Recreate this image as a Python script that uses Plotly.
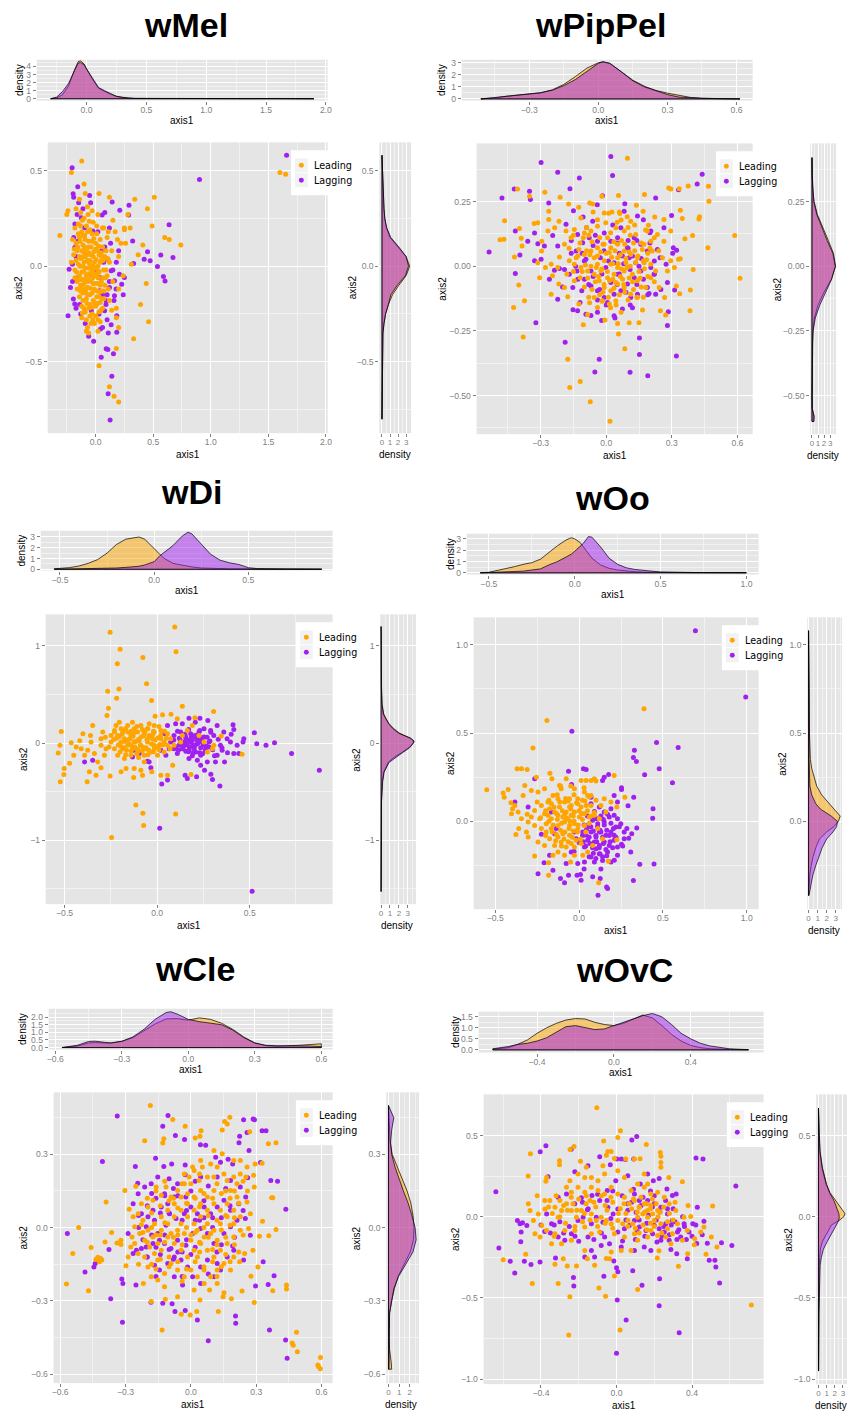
import plotly.graph_objects as go

W, H = 851, 1414
FONT = "Liberation Sans, Arial, Helvetica, sans-serif"
LEGEND_FONT = "DejaVu Sans, Verdana, sans-serif"
LEAD_COLOR = "#FFA500"
LAG_COLOR = "#A020F0"
LEAD_FILL = "rgba(255,165,0,0.5)"
LAG_FILL = "rgba(160,32,240,0.5)"
GREY = "#7F7F7F"

SERIES = ["Leading", "Lagging"]

# ---------------------------------------------------------------- wMel
WMEL_LEAD = [(-0.12,0.55),(-0.21,0.49),(-0.31,0.16),(-0.25,0.27),(-0.24,0.29),(-0.10,0.43),(0.03,0.38),(0.12,0.36),
    (0.34,0.35),(0.51,0.36),(0.45,0.30),(0.49,0.21),(0.60,0.15),(0.64,0.14),(0.74,0.11),(0.41,0.11),(0.37,0.06),
    (0.31,0.01),(0.44,-0.09),(0.39,-0.20),(0.46,-0.29),(0.33,-0.38),(0.18,-0.43),(0.20,-0.32),(0.03,-0.52),
    (0.12,-0.63),(0.16,-0.68),(0.20,-0.71),(1.60,0.49),(1.65,0.48),(0.28,0.27),(0.30,0.20),(0.26,0.12),(0.19,0.14),
    (0.25,0.19),(0.15,0.24),(0.11,0.18),(0.06,0.20),(-0.06,-0.35),(0.02,-0.34),(-0.01,-0.30),(-0.07,-0.32),
    (-0.12,-0.27),(0.14,-0.23),(0.18,-0.27),(-0.08,-0.34),
    (-0.18,0.20),(-0.15,0.22),(-0.12,0.18),(-0.10,0.25),(-0.08,0.21),(-0.05,0.19),(-0.02,0.23),(0.01,0.17),(0.04,0.14),
    (-0.17,0.12),(-0.14,0.15),(-0.11,0.11),(-0.09,0.14),(-0.06,0.10),(-0.03,0.13),(0.00,0.09),(0.03,0.06),(0.06,0.10),
    (-0.19,0.06),(-0.16,0.08),(-0.13,0.04),(-0.10,0.07),(-0.07,0.03),(-0.04,0.06),(-0.01,0.02),(0.02,0.00),(0.05,0.03),
    (0.08,0.05),(-0.18,-0.02),(-0.15,0.01),(-0.12,-0.03),(-0.09,-0.01),(-0.06,-0.04),(-0.03,-0.02),(0.00,-0.05),
    (0.03,-0.03),(0.06,-0.06),(0.09,-0.02),(-0.16,-0.08),(-0.13,-0.10),(-0.10,-0.07),(-0.07,-0.11),(-0.04,-0.08),
    (-0.01,-0.12),(0.02,-0.09),(0.05,-0.13),(0.08,-0.10),(-0.14,-0.16),(-0.11,-0.14),(-0.08,-0.17),(-0.05,-0.15),
    (-0.02,-0.18),(0.01,-0.16),(0.04,-0.19),(0.07,-0.17),(-0.12,-0.21),(-0.09,-0.24),(-0.06,-0.22),(-0.03,-0.25),
    (0.00,-0.21),(0.03,-0.24),(0.06,-0.22),(-0.08,-0.28),(-0.04,-0.30),(0.02,-0.28),(0.10,-0.05),(0.12,0.02),
    (0.11,-0.12),(0.14,0.08),(0.15,-0.08),(-0.20,0.14),(-0.21,0.02),(-0.17,0.30),(-0.13,0.28),(-0.07,0.31),
    (-0.03,0.29),(0.02,0.27),(0.07,0.20),(0.10,0.15),(0.12,-0.18),(0.18,-0.22),(0.20,0.05),(0.22,0.12),(0.17,0.18),
    (0.25,0.20),(0.24,-0.05),(0.20,-0.12),(-0.14,0.35),(-0.09,0.38),(-0.04,0.00),(-0.06,0.07),(-0.08,-0.05),
    (-0.02,-0.09),(-0.11,0.00),(-0.05,-0.01),
    (-0.14,0.05),(-0.12,0.08),(-0.10,0.02),(-0.08,0.09),(-0.06,0.13),(-0.04,0.10),(-0.02,0.05),(0.00,0.12),(0.02,0.08),
    (0.04,0.02),(-0.14,-0.05),(-0.12,-0.07),(-0.10,-0.03),(-0.08,-0.08),(-0.06,-0.01),(-0.04,-0.05),(-0.02,-0.03),
    (0.00,-0.01),(0.02,-0.06),(0.04,-0.10),(-0.13,-0.13),(-0.11,-0.18),(-0.09,-0.12),(-0.07,-0.15),(-0.05,-0.20),
    (-0.03,-0.14),(-0.01,-0.19),(0.01,-0.13),(0.03,-0.16),(0.05,-0.08),(-0.15,0.17),(-0.13,0.21),(-0.11,0.16),
    (-0.07,0.18),(-0.03,0.17),(0.01,0.21),(0.05,0.07),(0.07,-0.02),(0.09,0.08),(0.07,-0.13),(-0.17,0.03),(-0.18,-0.06),
    (-0.16,-0.12),(-0.10,-0.22),(-0.05,-0.26),(0.00,-0.26),(0.04,-0.29),(-0.02,0.00),(-0.09,0.05),(-0.05,0.03),
    (-0.135,0.00),(-0.115,0.045),(-0.095,0.10),(-0.075,0.06),(-0.055,0.015),(-0.035,-0.035),(-0.015,0.075),
    (0.005,0.035),(0.025,-0.025),(0.045,0.055),(-0.125,-0.115),(-0.105,-0.095),(-0.085,-0.135),(-0.065,-0.07),
    (-0.045,-0.115),(-0.025,-0.06),(-0.005,-0.09),(0.015,-0.04),(0.035,-0.135),(0.055,-0.17),(-0.115,-0.245),
    (-0.075,-0.195),(-0.035,-0.215),(0.015,-0.195),(-0.155,0.10),(-0.135,0.13),(-0.095,0.16),(-0.055,0.235),
    (-0.015,0.145),(0.025,0.105),(-0.165,-0.03),(-0.145,-0.07),(-0.185,0.09),(0.065,0.03),(0.085,-0.06),(0.105,0.04),
    (-0.065,0.27),(-0.115,0.24),(-0.025,-0.28),(0.045,-0.23)]
WMEL_LAG = [(-0.204,0.514),(-0.195,0.378),(-0.155,0.415),(-0.052,0.37),(-0.043,0.332),(-0.147,0.332),(0.057,0.267),
    (0.144,0.335),(0.21,0.292),(0.29,0.318),(0.287,0.267),(1.658,0.58),(0.902,0.453),(0.638,0.217),(0.672,0.045),
    (0.566,0.059),(0.451,0.075),(0.474,0.028),(0.537,-0.002),(0.589,-0.054),(0.603,-0.078),(0.422,0.036),
    (0.322,0.132),(0.33,0.014),(0.25,-0.059),(0.227,-0.094),(-0.239,-0.259),(-0.218,-0.111),(-0.23,-0.016),
    (-0.201,0.01),(-0.193,-0.172),(-0.181,-0.198),(-0.129,-0.25),(-0.06,-0.366),(-0.017,-0.392),(0.043,-0.328),
    (0.049,-0.476),(0.092,-0.432),(0.106,-0.436),(0.155,-0.458),(0.184,-0.345),(0.184,-0.259),(0.135,-0.306),
    (0.109,-0.667),(0.141,-0.576),(0.126,-0.804),(0.078,-0.233),(0.092,-0.181),(0.164,-0.155),(0.121,-0.111),
    (0.178,-0.12),(0.207,-0.042),(0.164,-0.076),(0.135,-0.024),(0.106,0.036),(0.049,0.08),(-0.023,0.184),
    (-0.095,0.201),(-0.152,0.132),(-0.124,0.253),(-0.181,0.097),(0.006,-0.024),(0.034,-0.128),(0.006,-0.198),
    (-0.037,-0.233),(-0.109,-0.128),(-0.066,-0.076),(-0.152,-0.059),
    (0.06,-0.15),(0.09,-0.20),(0.12,-0.08),(0.10,-0.28),(0.08,0.10),(0.13,0.12),(0.18,0.02),(0.16,-0.18),(-0.18,0.22),
    (-0.16,0.27),(-0.20,-0.08),(-0.17,-0.22),(-0.09,-0.30),(0.03,-0.25),(0.20,0.08),(0.24,-0.15),(-0.11,0.30),
    (-0.19,0.36),(0.08,0.28),(0.11,-0.35),
    (0.04,-0.06),(0.07,0.02),(0.10,-0.15),(0.15,-0.02),(-0.19,0.15),(-0.17,0.05),(0.02,0.18),(0.12,0.20),(-0.14,-0.20),
    (0.06,-0.32)]
WMEL_TOP_X = [-0.3,-0.25,-0.2,-0.15,-0.1,-0.07,-0.05,-0.02,0.0,0.05,0.1,0.15,0.2,0.25,0.3,0.35,0.4,0.5,0.7,1.0,1.3,1.6,1.7,1.9]
WMEL_TOP_LEAD = [0,0.1,0.5,1.6,3.6,4.6,4.7,4.3,3.7,2.4,1.3,0.9,0.55,0.3,0.16,0.08,0.04,0.03,0.02,0.02,0.02,0.03,0.03,0]
WMEL_TOP_LAG = [0,0.2,0.9,1.9,3.5,4.4,4.5,4.2,3.7,2.5,1.4,1.0,0.6,0.3,0.15,0.07,0.04,0.03,0.02,0.02,0.02,0.03,0.03,0]
WMEL_SIDE_Y = [-0.8,-0.6,-0.45,-0.35,-0.3,-0.25,-0.2,-0.15,-0.1,-0.05,0,0.05,0.1,0.15,0.2,0.25,0.3,0.4,0.5,0.58]
WMEL_SIDE_LEAD = [0,0.03,0.06,0.12,0.25,0.45,0.8,1.3,2.1,3.0,3.45,3.0,2.0,1.0,0.55,0.35,0.25,0.15,0.12,0]
WMEL_SIDE_LAG = [0,0.03,0.06,0.12,0.25,0.45,0.8,1.1,1.9,2.9,3.3,3.0,2.1,1.1,0.6,0.35,0.25,0.15,0.12,0]
WMEL_AX1_TICKS = [0, 0.5, 1.0, 1.5, 2.0]
WMEL_AX1_LABELS = ["0.0", "0.5", "1.0", "1.5", "2.0"]
WMEL_AX2_TICKS = [-0.5, 0, 0.5]
WMEL_AX2_LABELS = ["−0.5", "0.0", "0.5"]
WMEL_DENS_TICKS = [0, 1, 2, 3, 4]
WMEL_DENS_LABELS = ["0", "1", "2", "3", "4"]
WMEL_SIDE_TICKS = [0, 1, 2, 3]
WMEL_SIDE_LABELS = ["0", "1", "2", "3"]

# ---------------------------------------------------------------- wPipPel
WPIPPEL_LEAD = [(0.097,0.418),(-0.406,0.299),(-0.465,0.176),(-0.486,0.103),(-0.468,0.104),(-0.397,0.146),(-0.389,0.108),
    (-0.385,0.078),(-0.42,0.036),(-0.4,-0.072),(-0.374,-0.133),(-0.424,-0.159),(-0.38,-0.273),(-0.351,0.271),
    (-0.281,0.286),(-0.33,0.165),(-0.313,0.168),(-0.263,0.213),(-0.263,0.181),(-0.211,0.267),(-0.216,0.174),
    (-0.236,0.149),(-0.172,0.241),(-0.126,0.228),(-0.076,0.245),(-0.062,0.241),(-0.02,0.271),(-0.009,0.206),
    (0.011,0.205),(0.026,0.21),(0.056,0.274),(0.062,0.204),(0.068,0.179),(0.096,0.191),(0.112,0.174),(0.138,0.236),
    (0.175,0.277),(0.169,0.213),(0.193,0.159),(0.222,0.19),(0.264,0.181),(0.286,0.303),(0.296,0.299),(0.334,0.3),
    (0.375,0.31),(0.468,0.309),(0.47,0.251),(0.424,0.183),(0.427,0.191),(0.339,0.217),(0.348,0.185),(0.36,0.106),
    (0.395,0.119),(0.465,0.072),(0.588,0.119),(0.612,-0.046),(0.398,-0.012),(0.385,-0.092),(0.383,-0.172),
    (0.336,-0.106),(0.321,-0.076),(0.312,-0.005),(0.331,0.027),(0.339,0.029),(0.267,-0.121),(0.272,-0.188),
    (0.248,-0.172),(0.166,-0.169),(0.15,-0.218),(0.105,-0.218),(0.068,-0.178),(0.056,-0.262),(0.085,-0.319),
    (0.052,-0.221),(-0.006,-0.208),(0.017,-0.599),(-0.073,-0.524),(-0.119,-0.445),(-0.167,-0.469),(-0.176,-0.359),
    (-0.105,-0.226),(-0.085,-0.186),(-0.076,-0.141),(-0.125,-0.146),(-0.176,-0.118),(-0.191,-0.082),(-0.217,-0.069),
    (-0.252,-0.108),(-0.246,-0.037),(-0.278,-0.005),(-0.305,-0.044),(-0.313,0.014),(-0.296,0.059),(-0.295,0.097),
    (-0.267,0.136),(-0.191,0.085),(-0.161,0.11),(-0.184,0.136),(-0.146,0.142),(-0.116,0.187),(-0.1,0.129),
    (-0.07,0.136),(-0.04,0.155),(-0.002,0.168),(0.044,0.149),(0.082,0.136),(0.135,0.123),(0.188,0.136),(0.234,0.123),
    (0.204,0.097),(0.264,0.097),(0.295,0.136),(0.257,0.033),(0.226,-0.018),(0.204,-0.044),(0.181,-0.082),
    (0.143,-0.121),(0.112,-0.108),(0.082,-0.082),(0.052,-0.069),(0.021,-0.095),(-0.009,-0.082),(-0.032,-0.056),
    (-0.055,-0.031),(-0.085,-0.018),(-0.116,-0.005),(-0.146,0.008),(-0.169,0.021),(-0.138,0.033),(-0.1,0.046),
    (-0.07,0.059),(-0.04,0.072),(-0.009,0.085),(0.021,0.072),(0.052,0.085),(0.082,0.059),(0.112,0.046),(0.143,0.033),
    (0.173,0.014),(0.204,0.008),(-0.009,0.021),(0.021,0.008),(0.052,-0.005),(0.082,-0.018),(0.036,-0.031),
    (0.006,-0.044),(-0.024,-0.018),(-0.04,0.008),(-0.055,0.033),(0.014,0.053),(0.052,0.033),(0.09,0.014),
    (0.12,-0.031),(0.143,-0.056),(0.075,-0.05),(0.044,-0.063),(-0.146,-0.056),(-0.119,-0.044),(-0.222,-0.005),
    (-0.252,0.008),(-0.214,0.036),(0.006,0.11),(0.173,0.085),(0.211,0.059),(0.295,0.021),(0.28,-0.018),
    (0.242,-0.082),(-0.055,-0.121),(-0.017,-0.133),(0.014,-0.146),(0.044,-0.133),(-0.04,-0.159),
    (-0.12,0.09),(-0.08,0.12),(-0.03,0.11),(0.02,0.13),(0.07,0.10),(0.11,0.12),(0.16,0.09),(0.19,0.05),(-0.13,0.04),
    (-0.09,0.06),(-0.04,0.04),(0.00,0.05),(0.04,0.06),(0.09,0.03),(0.13,0.06),(0.17,0.02),(-0.11,-0.02),(-0.07,0.00),
    (-0.02,-0.01),(0.03,0.01),(0.07,-0.01),(0.11,0.00),(0.15,-0.02),(0.19,-0.04),(-0.10,-0.08),(-0.05,-0.06),
    (-0.01,-0.07),(0.03,-0.05),(0.08,-0.07),(0.12,-0.06),(0.16,-0.08),(-0.08,-0.12),(-0.03,-0.11),(0.01,-0.12),
    (0.06,-0.11),(0.10,-0.13),(0.14,-0.12),(0.02,-0.16),(-0.04,0.18),(0.05,0.17),(0.13,0.16),(0.22,0.11),(0.24,0.06),
    (0.22,-0.06),(-0.17,0.07),(-0.18,-0.03),(-0.15,0.12),(0.06,0.21),(-0.06,0.21),(0.18,0.14),
    (-0.105,0.11),(-0.065,0.095),(-0.015,0.085),(0.035,0.095),(0.085,0.085),(0.125,0.09),(0.165,0.065),(-0.125,0.065),
    (-0.075,0.045),(-0.025,0.055),(0.025,0.035),(0.065,0.045),(0.105,0.055),(0.145,0.04),(0.185,0.025),(-0.095,0.005),
    (-0.045,-0.005),(0.005,-0.02),(0.055,0.01),(0.095,-0.005),(0.135,0.015),(0.175,-0.01),(-0.085,-0.045),
    (-0.035,-0.04),(0.015,-0.055),(0.065,-0.04),(0.105,-0.045),(0.155,-0.045),(-0.065,-0.09),(-0.015,-0.1),
    (0.035,-0.085),(0.085,-0.1),(0.125,-0.09),(-0.02,-0.135),(0.045,-0.15),(0.17,-0.12),(0.2,0.07),(-0.15,-0.02),
    (-0.09,0.15),(0.1,0.15)]
WPIPPEL_LAG = [(0.021,0.424),(-0.298,0.401),(-0.222,0.363),(-0.123,0.341),(0.029,0.351),(-0.166,0.3),(-0.421,0.299),
    (-0.477,0.264),(-0.351,0.29),(-0.347,0.258),(-0.263,0.245),(-0.15,0.215),(-0.106,0.19),(-0.041,0.238),
    (-0.017,0.273),(0.085,0.242),(0.226,0.264),(0.331,0.296),(0.416,0.318),(0.439,0.356),(0.299,0.196),(0.264,0.149),
    (0.307,0.072),(0.322,0.062),(0.304,0.05),(0.274,0.008),(0.246,0.033),(0.313,-0.092),(0.28,-0.063),(0.226,-0.108),
    (0.284,-0.176),(0.28,-0.229),(0.321,-0.347),(0.152,-0.277),(0.152,-0.341),(0.19,-0.423),(0.109,-0.41),
    (-0.032,-0.359),(-0.052,-0.409),(-0.188,-0.294),(-0.322,-0.218),(-0.416,-0.028),(-0.536,0.055),(-0.395,0.044),
    (-0.416,0.136),(-0.328,0.129),(-0.313,0.087),(-0.245,0.119),(-0.222,0.078),(-0.191,-0.012),(-0.214,-0.009),
    (-0.237,-0.015),(-0.26,-0.05),(-0.222,-0.127),(-0.152,-0.168),(-0.131,-0.172),(-0.093,-0.185),(-0.04,-0.178),
    (-0.021,-0.21),(0.006,-0.14),(0.036,-0.191),(0.074,-0.165),(0.112,-0.121),(0.143,-0.108),(0.196,-0.105),
    (0.188,-0.082),(0.219,-0.031),(0.204,-0.005),(0.234,0.065),(0.204,0.136),(0.188,0.059),(0.158,0.085),
    (0.128,0.11),(0.097,0.072),(0.052,0.11),(0.021,0.097),(-0.009,0.129),(-0.04,0.097),(-0.078,0.11),(-0.108,0.091),
    (-0.138,0.059),(-0.093,0.027),(-0.07,-0.018),(-0.1,-0.05),(-0.07,-0.076),(-0.04,-0.095),(-0.009,-0.121),
    (0.036,-0.108),(0.067,-0.095),(0.097,-0.069),(0.128,-0.044),(0.158,-0.018),(0.135,0.014),(0.105,0.033),
    (0.074,0.04),(0.036,0.014),(-0.002,-0.005),(-0.027,0.033),(-0.134,-0.018),(-0.169,-0.031),(-0.153,-0.082),
    (-0.112,-0.095),(-0.184,0.162),(-0.131,0.123),(-0.062,0.174),(0.067,0.149),(0.143,0.194),(0.082,0.213),
    (-0.283,0.078),(-0.298,0.027),(-0.359,0.097),(-0.328,0.021),(0.052,-0.031),(0.021,-0.063),(0.109,-0.012),
    (-0.06,0.08),(0.05,0.09),(0.14,0.10),(-0.10,0.02),(0.01,0.02),(0.12,0.04),(-0.06,-0.04),(0.06,-0.03),(0.17,-0.05),
    (-0.03,-0.09),(0.09,-0.10),(0.19,-0.11),(-0.12,-0.14),(0.00,-0.15),(0.12,-0.16),(-0.16,0.05),(0.22,0.02),
    (-0.09,0.15),(0.03,0.16),(0.17,0.18),(-0.20,-0.08),(0.25,-0.09),(0.08,0.01),(-0.01,0.06),(0.10,0.07),(-0.13,-0.05),
    (0.15,0.00),(0.04,-0.20),(-0.07,-0.19),(0.20,0.09),
    (-0.11,0.05),(-0.05,0.12),(0.10,0.10),(0.16,0.03),(-0.02,-0.03),(0.05,-0.07),(-0.08,-0.07),(0.14,-0.07),
    (0.22,-0.03),(-0.16,0.10),(0.20,0.13),(0.06,0.05),(-0.04,-0.13),(0.11,-0.15),(-0.14,0.00)]
WPIPPEL_TOP_X = [-0.51,-0.45,-0.4,-0.35,-0.3,-0.25,-0.2,-0.15,-0.1,-0.05,0,0.02,0.05,0.1,0.15,0.2,0.25,0.3,0.35,0.4,0.45,0.5,0.6,0.615]
WPIPPEL_TOP_LEAD = [0,0.08,0.22,0.32,0.4,0.52,0.75,1.2,1.85,2.55,3.0,3.08,2.95,2.25,1.55,1.05,0.7,0.48,0.3,0.12,0.05,0.03,0.01,0]
WPIPPEL_TOP_LAG = [0,0.12,0.25,0.32,0.4,0.5,0.72,1.1,1.6,2.3,2.95,3.08,2.95,2.25,1.5,1.0,0.65,0.36,0.15,0.08,0.05,0.03,0.01,0]
WPIPPEL_SIDE_Y = [-0.6,-0.58,-0.55,-0.5,-0.4,-0.3,-0.25,-0.2,-0.15,-0.1,-0.05,0,0.05,0.1,0.15,0.2,0.25,0.3,0.35,0.42]
WPIPPEL_SIDE_LEAD = [0.3,0.35,0.05,0.02,0.03,0.06,0.15,0.4,1.0,2.0,3.2,3.9,3.55,2.7,1.8,0.9,0.35,0.12,0.05,0]
WPIPPEL_SIDE_LAG = [0.3,0.35,0.05,0.02,0.03,0.08,0.2,0.55,1.3,2.3,3.25,3.85,3.45,2.5,1.7,0.8,0.3,0.12,0.05,0]
WPIPPEL_AX1_TICKS = [-0.3, 0, 0.3, 0.6]
WPIPPEL_AX1_LABELS = ["−0.3", "0.0", "0.3", "0.6"]
WPIPPEL_AX2_TICKS = [-0.5, -0.25, 0, 0.25]
WPIPPEL_AX2_LABELS = ["−0.50", "−0.25", "0.00", "0.25"]
WPIPPEL_DENS_TICKS = [0, 1, 2, 3]
WPIPPEL_DENS_LABELS = ["0", "1", "2", "3"]
WPIPPEL_SIDE_TICKS = [0, 1, 2, 3]
WPIPPEL_SIDE_LABELS = ["0", "1", "2", "3"]

# ---------------------------------------------------------------- wDi
WDI_LEAD = [(-0.254,1.14),(0.095,1.195),(-0.2,0.966),(0.102,0.939),(-0.215,0.816),(-0.077,0.881),(-0.267,0.532),
    (-0.206,0.556),(-0.057,0.611),(-0.219,0.461),(-0.03,0.437),(0.136,0.379),(-0.263,0.358),(-0.271,0.283),
    (0.075,0.297),(0.305,0.324),(-0.518,0.119),(-0.525,-0.024),(-0.534,-0.102),(-0.464,0.003),(-0.45,-0.126),
    (-0.473,-0.208),(-0.502,-0.263),(-0.504,-0.324),(-0.523,-0.399),(-0.378,-0.399),(-0.401,0.096),(-0.348,0.181),
    (-0.36,0.078),(-0.418,0.024),(-0.41,-0.058),(-0.375,-0.075),(-0.339,-0.109),(-0.366,-0.297),(-0.33,-0.331),
    (-0.303,-0.256),(-0.321,-0.195),(-0.285,-0.126),(-0.303,0.044),(-0.294,0.113),(-0.249,0.078),(-0.254,-0.341),
    (-0.246,-0.973),(-0.195,-0.297),(-0.168,-0.263),(-0.127,-0.355),(-0.124,-0.263),(-0.088,-0.28),(-0.079,-0.331),
    (-0.07,-0.195),(-0.115,-0.638),(-0.077,-0.724),(-0.073,-0.85),(0.1,-0.73),(-0.029,-0.297),(0.02,-0.331),
    (0.056,-0.331),(0.084,-0.229),(0.183,-0.324),(0.204,0.259),(0.109,0.249),(0.029,0.29),(0.306,-0.024),
    (0.346,0.072),(0.299,-0.058),(0.459,-0.116),(-0.011,0.276),(-0.088,0.181),(-0.124,0.147),(-0.159,0.181),
    (-0.195,0.147),(-0.231,0.113),(-0.249,0.01),(-0.231,-0.058),(-0.213,-0.126),(-0.177,-0.16),(-0.142,-0.126),
    (-0.106,-0.092),(-0.07,-0.126),(-0.034,-0.092),(0.002,-0.126),(0.038,-0.092),(0.056,-0.024),(0.02,0.044),
    (-0.016,0.113),(-0.052,0.147),(-0.016,0.181),(0.02,0.13),(0.056,0.096),(0.073,0.044),(0.091,-0.024),
    (0.127,0.01),(0.136,0.078),(0.163,0.13),(0.19,0.181),(0.226,0.078),(0.253,0.01),(0.271,-0.092),(-0.177,0.044),
    (-0.159,-0.024),(-0.124,0.01),(-0.088,-0.024),(-0.052,0.01),(-0.025,0.044),(-0.142,0.078),(-0.106,0.113),
    (-0.07,0.078),(-0.195,0.01),(-0.213,0.078),(-0.186,-0.058),(-0.131,-0.058),(-0.097,0.027),(-0.061,-0.058),
    (-0.016,-0.024),(-0.043,0.078),(0.011,-0.024),(0.038,0.01),(-0.159,0.113),(-0.204,0.215),(-0.133,0.215),
    (-0.043,0.198),(-0.222,0.181),(-0.303,-0.024),(-0.276,-0.058),(-0.357,0.01),(-0.392,-0.126),(-0.437,-0.041),
    (-0.22,0.05),(-0.19,0.09),(-0.16,0.03),(-0.13,0.07),(-0.10,0.04),(-0.07,0.10),(-0.04,0.06),(-0.01,0.03),(0.02,0.08),
    (-0.21,-0.02),(-0.18,-0.05),(-0.15,-0.01),(-0.12,-0.04),(-0.09,-0.02),(-0.06,-0.05),(-0.03,-0.01),(0.00,-0.04),
    (0.03,-0.02),(-0.20,-0.09),(-0.17,-0.12),(-0.14,-0.08),(-0.11,-0.11),(-0.08,-0.08),(-0.05,-0.12),(-0.02,-0.09),
    (0.01,-0.07),(-0.23,0.13),(-0.17,0.15),(-0.11,0.17),(-0.05,0.15),(0.01,0.17),(0.05,0.05),(0.07,-0.06),
    (-0.26,-0.04),(-0.28,0.06),(-0.14,0.12),(-0.08,0.14),(-0.02,0.12),(0.04,0.12),(-0.10,-0.15),
    (-0.235,0.035),(-0.205,0.065),(-0.175,0.015),(-0.145,0.045),(-0.115,0.015),(-0.085,0.065),(-0.055,0.035),
    (-0.025,0.085),(0.005,0.055),(-0.195,-0.035),(-0.165,-0.075),(-0.135,-0.035),(-0.105,-0.065),(-0.075,-0.045),
    (-0.045,-0.075),(-0.015,-0.055),(0.015,-0.015),(-0.125,0.105),(-0.065,0.125),(-0.185,0.115)]
WDI_LAG = [(0.513,-1.526),(0.876,-0.28),(0.726,-0.109),(0.634,0.003),(0.588,-0.024),(0.538,-0.007),(0.525,0.106),
    (0.468,0.044),(0.464,0.01),(0.441,-0.109),(0.414,-0.109),(0.41,0.188),(0.414,0.14),(0.396,0.01),(0.364,-0.195),
    (0.339,-0.444),(0.299,-0.375),(0.29,-0.321),(0.256,-0.28),(0.213,-0.348),(0.163,-0.365),(0.151,-0.331),
    (0.056,-0.382),(0.025,-0.423),(0.014,-0.877),(-0.034,-0.256),(-0.043,-0.195),(-0.392,-0.195),(-0.348,-0.177),
    (-0.133,-0.143),(0.36,0.113),(0.324,0.181),(0.274,0.232),(0.231,0.256),(0.206,0.215),(0.172,0.256),(0.136,0.198),
    (0.1,0.198),(0.056,0.181),(0.038,0.096),(0.073,0.01),(0.091,-0.058),(0.109,-0.109),(0.136,-0.058),(0.163,-0.024),
    (0.19,0.027),(0.217,0.044),(0.235,0.01),(0.199,-0.024),(0.172,-0.075),(0.208,-0.092),(0.235,-0.126),
    (0.262,-0.058),(0.28,0.01),(0.306,0.078),(0.289,0.13),(0.253,0.147),(0.226,0.113),(0.181,0.096),(0.154,0.061),
    (0.127,0.113),(0.091,0.078),(0.065,-0.058),(0.047,-0.126),(0.02,-0.075),(0.172,-0.16),(0.217,-0.177),
    (0.271,-0.195),(0.324,-0.126),(0.342,-0.024),(0.378,0.044),(0.351,-0.075),(0.315,-0.195),(0.235,-0.229),
    (0.19,0.078),(0.217,-0.007),(0.181,0.01),(0.208,0.061),(0.145,0.01),(0.118,-0.024),(0.253,0.061),(-0.097,-0.109),
    (-0.052,-0.188),(0.432,-0.024),(-0.124,-0.075),
    (0.12,0.05),(0.15,0.09),(0.18,0.04),(0.21,0.08),(0.24,0.03),(0.27,0.06),(0.13,-0.01),(0.16,0.02),(0.19,-0.03),
    (0.22,0.00),(0.25,-0.02),(0.28,-0.04),(0.14,-0.06),(0.17,-0.09),(0.20,-0.06),(0.23,-0.10),(0.26,-0.08),(0.30,-0.07),
    (0.11,0.12),(0.17,0.14),(0.23,0.13),(0.29,0.11),(0.33,0.04),(0.35,-0.05),(0.09,0.03),(0.10,-0.04),(0.19,-0.13),
    (0.31,-0.13),(0.38,-0.10),(0.40,0.09),
    (0.125,0.025),(0.155,0.055),(0.185,0.065),(0.215,0.035),(0.245,0.055),(0.145,-0.025),(0.175,-0.045),
    (0.205,-0.025),(0.235,-0.05),(0.265,-0.03),(0.155,-0.085),(0.195,-0.1),(0.245,-0.11),(0.285,0.02),(0.115,-0.075)]
WDI_TOP_X = [-0.53,-0.45,-0.4,-0.35,-0.3,-0.25,-0.2,-0.15,-0.12,-0.08,-0.05,0,0.03,0.05,0.1,0.15,0.18,0.2,0.25,0.3,0.35,0.4,0.45,0.5,0.55,0.6,0.7,0.89]
WDI_TOP_LEAD = [0.05,0.15,0.3,0.55,0.9,1.5,2.3,2.8,2.9,3.0,2.8,1.9,1.4,1.05,0.55,0.35,0.28,0.22,0.12,0.07,0.05,0.04,0.04,0.03,0.02,0.02,0.01,0.01]
WDI_TOP_LAG = [0.02,0.03,0.04,0.05,0.07,0.09,0.12,0.18,0.22,0.28,0.4,0.7,1.25,1.5,2.2,3.1,3.45,3.3,2.3,1.4,0.85,0.6,0.45,0.15,0.06,0.04,0.03,0.02]
WDI_SIDE_Y = [-1.53,-1.0,-0.6,-0.4,-0.3,-0.2,-0.15,-0.1,-0.05,0,0.02,0.05,0.1,0.15,0.2,0.25,0.3,0.4,0.6,1.0,1.2]
WDI_SIDE_LEAD = [0.01,0.02,0.05,0.15,0.3,0.8,1.4,2.3,3.1,3.6,3.7,3.3,2.1,1.4,0.9,0.55,0.3,0.12,0.05,0.03,0.01]
WDI_SIDE_LAG = [0.01,0.02,0.05,0.18,0.35,0.9,1.6,2.4,3.2,3.65,3.7,3.3,2.0,1.3,0.85,0.5,0.25,0.1,0.03,0.01,0.0]
WDI_AX1_TICKS = [-0.5, 0, 0.5]
WDI_AX1_LABELS = ["−0.5", "0.0", "0.5"]
WDI_AX2_TICKS = [-1, 0, 1]
WDI_AX2_LABELS = ["−1", "0", "1"]
WDI_DENS_TICKS = [0, 1, 2, 3]
WDI_DENS_LABELS = ["0", "1", "2", "3"]
WDI_SIDE_TICKS = [0, 1, 2, 3]
WDI_SIDE_LABELS = ["0", "1", "2", "3"]

# ---------------------------------------------------------------- wOo
WOO_LEAD = [(0.387,0.637),(-0.192,0.571),(-0.275,0.416),(-0.551,0.179),(-0.453,0.16),(-0.447,0.137),(-0.423,0.181),
    (-0.407,0.105),(-0.397,0.072),(-0.403,0.043),(-0.377,-0.075),(-0.36,-0.041),(-0.314,-0.06),(-0.304,-0.089),
    (-0.265,-0.196),(-0.182,-0.234),(-0.182,-0.305),(-0.37,0.298),(-0.344,0.298),(-0.31,0.294),(-0.255,0.25),
    (-0.324,0.203),(-0.334,0.147),(-0.285,0.175),(-0.245,0.166),(-0.206,0.185),(-0.174,0.273),(-0.162,0.241),
    (-0.117,0.203),(-0.107,0.185),(-0.077,0.241),(0.012,0.232),(0.042,0.232),(0.071,0.232),(0.101,0.228),
    (0.091,0.241),(0.209,0.26),(0.273,0.137),(0.225,0.081),(0.225,-0.104),(0.174,-0.226),(0.117,-0.348),
    (0.032,0.166),(-0.028,0.185),(-0.057,0.128),(-0.008,0.128),(0.051,0.147),(0.101,0.119),(0.13,0.09),(0.071,0.09),
    (0.012,0.081),(-0.047,0.09),(-0.087,0.109),(-0.126,0.128),(-0.156,0.147),(-0.186,0.109),(-0.225,0.09),
    (-0.265,0.062),(-0.285,0.024),(-0.235,0.015),(-0.206,0.043),(-0.176,0.072),(-0.146,0.053),(-0.117,0.081),
    (-0.077,0.053),(-0.047,0.034),(-0.028,0.053),(0.002,0.024),(0.032,0.043),(0.061,0.024),(0.091,0.034),
    (0.121,0.015),(-0.087,-0.004),(-0.057,-0.023),(-0.028,-0.013),(-0.008,-0.041),(0.032,-0.023),(-0.126,-0.023),
    (-0.166,-0.041),(-0.196,-0.06),(-0.225,-0.041),(-0.176,-0.098),(-0.146,-0.136),(-0.107,-0.117),(-0.077,-0.145),
    (-0.047,-0.126),(-0.018,-0.107),(-0.057,-0.079),(-0.097,-0.07),(-0.126,-0.173),(-0.087,-0.192),(-0.051,-0.23),
    (-0.156,-0.192),(-0.206,-0.136),(-0.245,-0.117),(-0.265,-0.023),(-0.304,-0.004),(-0.344,0.015),(-0.364,0.053),
    (-0.383,0.09),(0.071,0.147),(0.15,0.128),(0.19,0.109),(0.16,0.053),(0.111,-0.041),(0.14,-0.098),(0.081,-0.136),
    (0.051,-0.173),(0.022,-0.192),(-0.028,-0.192),(-0.126,0.034),(-0.097,0.024),(-0.067,0.015),(-0.166,0.015),
    (-0.196,-0.013),(-0.057,0.081),(-0.008,0.1),(0.042,0.09),(-0.126,-0.089),(-0.028,-0.145),(0.012,-0.126),
    (-0.18,0.12),(-0.13,0.15),(-0.08,0.13),(-0.03,0.15),(0.02,0.12),(0.06,0.14),(-0.20,0.06),(-0.15,0.08),(-0.10,0.06),
    (-0.05,0.07),(0.00,0.06),(0.05,0.06),(0.09,0.05),(-0.18,0.00),(-0.13,0.01),(-0.08,0.02),(-0.03,0.00),(0.02,0.01),
    (0.06,-0.01),(-0.16,-0.06),(-0.11,-0.05),(-0.06,-0.04),(-0.01,-0.06),(0.04,-0.06),(-0.14,-0.11),(-0.09,-0.10),
    (-0.04,-0.09),(0.01,-0.10),(-0.23,0.02),(-0.25,0.11),(-0.11,0.20),(-0.05,0.20),(0.03,0.19),(-0.20,-0.08),(-0.31,0.04),
    (-0.165,0.10),(-0.115,0.11),(-0.065,0.115),(-0.015,0.105),(0.035,0.115),(-0.185,0.035),(-0.135,0.045),
    (-0.085,0.04),(-0.035,0.03),(0.015,0.045),(0.07,0.03),(-0.155,-0.02),(-0.105,-0.01),(-0.055,0.0),(-0.005,-0.02),
    (-0.135,-0.075),(-0.085,-0.06),(-0.035,-0.055),(-0.105,-0.14),(-0.065,-0.115)]
WOO_LAG = [(0.694,1.079),(0.994,0.704),(-0.043,0.51),(0.462,0.446),(0.591,0.418),(0.33,0.403),(0.324,0.362),
    (0.342,0.339),(0.478,0.298),(0.391,0.264),(0.557,0.218),(0.026,0.298),(0.042,0.294),(-0.063,0.284),(-0.045,0.209),
    (-0.265,0.241),(0.15,0.25),(0.176,0.266),(0.14,0.232),(0.253,0.181),(0.253,0.19),(0.326,0.136),(0.292,0.089),
    (0.441,0.072),(0.439,0.017),(0.344,-0.038),(0.314,-0.07),(0.296,-0.096),(0.308,-0.173),(0.362,-0.243),
    (0.447,-0.241),(0.324,-0.335),(0.253,-0.13),(0.229,-0.145),(0.164,-0.371),(0.17,-0.38),(0.113,-0.418),
    (0.126,-0.324),(0.081,-0.314),(0.012,-0.333),(0.008,-0.301),(-0.012,-0.305),(-0.063,-0.305),(-0.087,-0.348),
    (-0.111,-0.324),(-0.245,-0.296),(-0.209,-0.235),(-0.156,-0.277),(-0.176,-0.192),(-0.225,-0.073),(-0.304,0.081),
    (-0.383,0.109),(-0.166,0.053),(-0.146,-0.07),(-0.136,-0.041),(0.091,0.056),(0.121,0.081),(0.15,0.053),
    (0.18,0.024),(0.209,0.034),(0.229,0.015),(0.249,-0.013),(0.219,-0.032),(0.19,-0.06),(0.16,-0.079),(0.13,-0.06),
    (0.101,-0.089),(0.071,-0.06),(0.042,-0.079),(0.022,-0.06),(0.051,-0.107),(0.091,-0.117),(0.121,-0.136),
    (0.15,-0.117),(0.18,-0.136),(0.209,-0.107),(0.17,-0.173),(0.121,-0.183),(0.071,-0.202),(0.032,-0.23),
    (0.091,-0.23),(0.14,-0.221),(0.19,-0.23),(0.229,-0.192),(0.269,-0.06),(0.285,-0.041),(0.111,-0.013),
    (0.15,-0.004),(0.081,0.006),(0.051,-0.023),(-0.018,-0.098),(-0.047,-0.173),(-0.008,-0.239),(-0.077,-0.239),
    (0.032,-0.145),(0.101,-0.155),(0.269,-0.098),(0.209,-0.079),(0.121,-0.06),(-0.028,-0.06),(0.071,0.1),
    (0.071,0.137),(0.229,0.109),(0.19,0.072),(0.209,0.147),
    (0.03,-0.02),(0.07,-0.03),(0.11,-0.03),(0.15,-0.02),(0.19,-0.01),(0.02,-0.08),(0.06,-0.09),(0.10,-0.08),(0.14,-0.09),
    (0.18,-0.08),(0.22,-0.09),(0.04,-0.14),(0.08,-0.15),(0.12,-0.15),(0.16,-0.16),(0.20,-0.15),(0.06,-0.20),(0.10,-0.21),
    (0.14,-0.20),(0.05,0.03),(0.09,0.02),(0.13,0.03),(0.17,0.04),(0.24,-0.03),(0.26,-0.14),(0.00,-0.12),(-0.03,-0.17),
    (0.03,-0.27),(0.13,-0.27),(0.21,-0.22),
    (0.045,-0.045),(0.085,-0.055),(0.125,-0.05),(0.165,-0.05),(0.205,-0.04),(0.025,-0.115),(0.065,-0.125),
    (0.105,-0.115),(0.145,-0.125),(0.185,-0.115),(0.085,-0.18),(0.125,-0.185),(0.165,-0.195),(0.105,0.015),(0.145,0.01)]
WOO_TOP_X = [-0.55,-0.5,-0.45,-0.4,-0.35,-0.3,-0.25,-0.2,-0.15,-0.1,-0.05,-0.02,0,0.03,0.05,0.08,0.1,0.15,0.2,0.25,0.3,0.35,0.4,0.45,0.5,0.6,0.7,1.0]
WOO_TOP_LEAD = [0.02,0.05,0.2,0.4,0.55,0.75,0.9,1.2,1.8,2.4,2.9,3.1,3.0,2.7,2.3,1.7,1.3,0.7,0.4,0.25,0.15,0.1,0.06,0.05,0.04,0.02,0.015,0.01]
WOO_TOP_LAG = [0,0.02,0.03,0.05,0.1,0.15,0.25,0.35,0.7,1.0,1.4,1.65,1.9,2.3,2.6,3.2,3.15,2.3,1.3,0.75,0.45,0.3,0.2,0.15,0.08,0.04,0.03,0.01]
WOO_SIDE_Y = [-0.42,-0.35,-0.3,-0.25,-0.2,-0.15,-0.1,-0.06,-0.03,0,0.03,0.07,0.1,0.15,0.2,0.25,0.3,0.35,0.5,0.7,0.9,1.08]
WOO_SIDE_LEAD = [0,0.05,0.15,0.3,0.5,0.8,1.2,2.0,2.8,3.3,3.5,2.8,2.3,1.45,0.9,0.6,0.35,0.2,0.1,0.08,0.03,0]
WOO_SIDE_LAG = [0.05,0.3,0.5,0.8,1.15,1.5,2.0,2.7,3.1,3.2,2.5,1.3,0.8,0.35,0.15,0.1,0.08,0.06,0.08,0.08,0.03,0]
WOO_AX1_TICKS = [-0.5, 0, 0.5, 1.0]
WOO_AX1_LABELS = ["−0.5", "0.0", "0.5", "1.0"]
WOO_AX2_TICKS = [0, 0.5, 1.0]
WOO_AX2_LABELS = ["0.0", "0.5", "1.0"]
WOO_DENS_TICKS = [0, 1, 2, 3]
WOO_DENS_LABELS = ["0", "1", "2", "3"]
WOO_SIDE_TICKS = [0, 1, 2, 3]
WOO_SIDE_LABELS = ["0", "1", "2", "3"]

# ---------------------------------------------------------------- wCle
WCLE_LEAD = [(-0.186,0.5),(-0.083,0.443),(-0.026,0.415),(-0.212,0.356),(-0.129,0.347),(-0.124,0.364),(0.047,0.397),
    (0.02,0.367),(0.042,0.374),(0.144,0.4),(0.155,0.435),(0.167,0.424),(0.179,0.452),(0.27,0.393),(0.356,0.343),
    (0.391,0.348),(0.327,0.264),(0.376,0.122),(0.371,0.122),(0.391,-0.008),(0.358,-0.033),(0.329,0.026),
    (0.315,-0.035),(0.308,-0.161),(0.291,-0.307),(0.376,-0.259),(0.439,-0.235),(0.439,-0.252),(0.485,-0.429),
    (0.47,-0.482),(0.489,-0.509),(0.465,-0.473),(0.595,-0.532),(0.583,-0.563),(0.594,-0.578),(0.586,-0.569),
    (-0.571,-0.231),(-0.542,-0.106),(-0.515,0.0),(-0.47,-0.259),(-0.458,-0.082),(-0.436,-0.131),(-0.427,-0.121),
    (-0.42,-0.14),(-0.414,-0.127),(-0.409,-0.133),(-0.394,-0.059),(-0.389,0.105),(-0.364,-0.02),(-0.339,-0.063),
    (-0.321,-0.069),(-0.321,-0.052),(-0.303,0.152),(-0.298,-0.156),(-0.27,-0.038),(-0.283,0.075),(-0.253,0.169),
    (-0.227,0.012),(-0.218,-0.229),(-0.197,-0.161),(-0.182,-0.303),(-0.132,-0.419),(-0.117,-0.293),(-0.061,-0.283),
    (-0.044,-0.355),(-0.003,-0.358),(0.027,-0.344),(0.042,-0.297),(0.086,-0.256),(0.126,-0.344),(0.152,-0.267),
    (0.148,-0.283),(0.186,-0.291),(0.235,-0.26),(0.276,-0.199),(0.285,-0.093),(0.247,-0.106),(0.224,-0.14),
    (0.265,-0.004),(0.273,0.057),(0.258,0.105),(0.291,0.166),(0.253,0.207),(0.288,0.214),(0.295,0.261),(0.227,0.22),
    (0.212,0.18),(0.197,0.207),(0.182,0.152),(0.167,0.193),(0.152,0.22),(0.121,0.248),(0.106,0.207),(0.091,0.261),
    (0.076,0.207),(0.053,0.248),(0.038,0.193),(0.015,0.234),(-0.008,0.207),(-0.03,0.18),(-0.015,0.139),
    (-0.061,0.152),(-0.091,0.125),(-0.114,0.166),(-0.136,0.132),(-0.159,0.166),(-0.174,0.112),(-0.197,0.084),
    (-0.227,0.098),(-0.242,0.057),(-0.265,0.044),(-0.258,0.003),(-0.235,-0.024),(-0.212,-0.052),(-0.189,-0.079),
    (-0.167,-0.106),(-0.136,-0.093),(-0.152,-0.065),(-0.174,-0.038),(-0.197,-0.011),(-0.167,0.016),(-0.136,-0.011),
    (-0.106,-0.038),(-0.076,-0.065),(-0.045,-0.093),(-0.015,-0.12),(0.015,-0.093),(0.045,-0.065),(0.076,-0.093),
    (0.106,-0.12),(0.136,-0.093),(0.167,-0.065),(0.197,-0.038),(0.227,-0.011),(0.197,0.016),(0.167,0.044),
    (0.136,0.016),(0.106,-0.011),(0.076,0.016),(0.045,0.044),(0.015,0.016),(-0.015,0.044),(-0.045,0.016),
    (-0.076,0.044),(-0.106,0.016),(-0.136,0.044),(-0.106,0.071),(-0.076,0.098),(-0.045,0.071),(-0.015,0.098),
    (0.015,0.071),(0.045,0.098),(0.076,0.071),(0.106,0.098),(0.136,0.071),(0.167,0.098),(0.197,0.071),(0.227,0.044),
    (0.212,0.125),(0.106,0.152),(0.045,0.152),(0.076,0.125),(0.015,0.125),(-0.045,0.125),(-0.091,-0.147),
    (-0.061,-0.174),(-0.03,-0.201),(0.0,-0.174),(0.03,-0.201),(0.061,-0.174),(0.091,-0.201),(0.121,-0.174),
    (0.152,-0.147),(0.182,-0.174),(0.197,-0.12),(0.121,-0.229),(0.061,-0.229),(0.015,-0.256),(-0.121,-0.188),
    (-0.152,-0.215),(-0.182,-0.201),(-0.121,-0.242),(-0.152,-0.133),(-0.212,-0.12),(-0.242,-0.106),(-0.258,-0.065),
    (-0.288,-0.12),(-0.276,-0.079),(0.03,-0.011),(0.061,-0.038),(0.091,-0.024),(0.121,-0.052),(-0.03,-0.024),
    (-0.061,-0.011),(-0.091,-0.024),(0.0,-0.052),(0.03,-0.12),(0.258,0.248),(0.227,0.275),(0.197,0.275),
    (0.144,0.302),(0.106,0.316),(0.045,0.275),(0.008,0.248),(-0.03,0.22),
    (-0.22,0.03),(-0.18,0.06),(-0.14,0.09),(-0.10,0.11),(-0.06,0.08),(-0.02,0.10),(0.02,0.12),(0.06,0.14),(0.10,0.12),
    (0.14,0.14),(0.18,0.12),(0.22,0.10),(-0.20,-0.06),(-0.16,-0.03),(-0.12,-0.06),(-0.08,-0.04),(-0.04,-0.07),
    (0.00,-0.03),(0.04,-0.06),(0.08,-0.04),(0.12,-0.07),(0.16,-0.04),(0.20,-0.07),(0.24,-0.03),(-0.18,-0.15),
    (-0.14,-0.13),(-0.10,-0.16),(-0.06,-0.14),(-0.02,-0.17),(0.02,-0.14),(0.06,-0.16),(0.10,-0.14),(0.14,-0.16),
    (0.18,-0.14),(0.08,0.05),(0.12,0.03),(0.16,0.05),(-0.12,0.02),(0.20,0.04),(0.04,0.22),
    (-0.2,0.12),(-0.16,0.15),(-0.12,0.19),(-0.08,0.12),(-0.04,0.18),(0.0,0.18),(0.04,0.085),(0.12,0.18),(0.16,0.15),
    (0.2,0.15),(-0.22,-0.02),(-0.18,0.0),(-0.14,-0.03),(-0.1,-0.12),(-0.06,-0.03),(-0.02,0.0),(0.02,-0.02),(0.06,0.0),
    (0.1,-0.09),(0.14,-0.01),(0.18,0.01),(0.22,-0.1),(-0.16,-0.17),(-0.04,-0.22),(0.04,-0.1),(0.12,-0.2),(0.16,-0.11),
    (-0.24,-0.15),(0.26,0.15),(0.24,0.19)]
WCLE_LAG = [(-0.338,0.457),(-0.105,0.459),(-0.129,0.415),(-0.071,0.377),(-0.029,0.361),(0.044,0.339),(0.068,0.337),
    (0.286,0.445),(0.292,0.442),(0.242,0.442),(0.258,0.39),(0.224,0.374),(0.327,0.397),(0.345,0.397),(0.32,0.267),
    (0.367,0.193),(0.398,0.19),(0.436,0.075),(0.382,-0.197),(0.355,-0.233),(0.332,-0.14),(0.361,-0.419),
    (0.435,-0.46),(0.442,-0.535),(0.297,-0.239),(0.205,-0.362),(0.206,-0.392),(0.08,-0.463),(0.03,-0.378),
    (-0.026,-0.34),(-0.073,-0.344),(-0.129,-0.31),(-0.086,-0.312),(-0.183,-0.306),(-0.314,-0.388),(-0.368,-0.291),
    (-0.317,-0.211),(-0.312,-0.229),(-0.252,-0.235),(-0.486,-0.182),(-0.445,-0.161),(-0.439,-0.147),(-0.376,-0.09),
    (-0.567,-0.024),(-0.406,0.271),(-0.255,0.25),(-0.244,0.182),(-0.162,0.284),(-0.124,0.25),(-0.088,0.26),
    (-0.026,0.256),(-0.026,0.216),(0.114,0.288),(0.136,0.268),(0.171,0.28),(0.192,0.261),(0.221,0.348),(0.267,0.316),
    (0.261,0.204),(0.252,0.125),(0.25,0.037),(0.273,-0.031),(0.192,-0.075),(0.136,-0.174),(0.106,-0.201),
    (0.045,-0.229),(0.008,-0.201),(-0.038,-0.235),(-0.076,-0.201),(-0.106,-0.147),(-0.144,-0.174),(-0.167,-0.154),
    (-0.202,-0.12),(-0.227,-0.086),(-0.25,-0.093),(-0.265,-0.106),(-0.288,-0.024),(-0.265,0.098),(-0.242,0.139),
    (-0.212,0.166),(-0.182,0.18),(-0.152,0.207),(-0.121,0.139),(-0.098,0.057),(-0.068,0.037),(-0.03,0.057),
    (-0.114,0.01),(-0.144,-0.052),(-0.174,-0.065),(-0.205,-0.079),(-0.152,-0.024),(-0.121,-0.065),(-0.091,-0.086),
    (-0.061,-0.052),(-0.023,-0.072),(0.008,-0.024),(0.045,-0.004),(0.076,-0.024),(0.106,-0.065),(0.152,-0.024),
    (0.182,0.003),(0.212,0.03),(0.182,0.071),(0.152,0.112),(0.121,0.084),(0.091,0.057),(0.061,0.084),(0.03,0.057),
    (0.0,0.084),(-0.023,0.125),(-0.061,0.18),(0.045,0.207),(0.121,0.207),(0.182,0.193),(0.227,0.166),(0.22,0.098),
    (0.197,-0.093),(0.167,-0.12),(0.242,-0.133),(0.121,-0.147),(0.076,-0.133),(0.045,-0.161),(-0.015,-0.161),
    (-0.045,-0.133),(-0.076,-0.12),(-0.167,0.03),(-0.197,0.044),(-0.227,0.057),(-0.205,0.003),(-0.136,0.084),
    (-0.174,0.071),(-0.106,0.098),(-0.076,0.125),
    (-0.20,0.09),(-0.16,0.12),(-0.12,0.13),(-0.08,0.16),(-0.04,0.03),(-0.10,-0.09),(-0.06,-0.10),(-0.02,-0.05),
    (0.02,-0.08),(-0.18,-0.03),(-0.14,-0.11),(0.10,0.00),(0.14,0.04),(0.06,0.11),(0.16,0.16),(0.20,-0.04),(0.12,-0.10),
    (-0.22,-0.05),(-0.24,0.05),(0.00,0.15),(-0.04,-0.20),(0.08,-0.19),(-0.16,-0.20),(0.24,0.07),(0.04,0.03),
    (-0.18,0.14),(-0.14,0.06),(-0.1,0.06),(-0.06,0.13),(-0.02,0.07),(0.02,0.03),(0.06,0.04),(0.1,0.04),(-0.12,-0.03),
    (-0.08,-0.13),(-0.04,-0.1),(0.0,-0.11),(-0.2,-0.12),(-0.16,-0.08),(0.14,-0.07),(0.18,0.09),(0.08,0.17),(-0.1,0.2),
    (0.02,0.19),(-0.24,0.0)]
WCLE_TOP_X = [-0.57,-0.5,-0.45,-0.42,-0.38,-0.35,-0.3,-0.25,-0.2,-0.15,-0.1,-0.08,-0.05,0,0.05,0.1,0.15,0.2,0.25,0.3,0.35,0.4,0.45,0.5,0.55,0.6]
WCLE_TOP_LEAD = [0,0.1,0.3,0.33,0.3,0.3,0.4,0.65,1.1,1.55,1.88,1.9,1.9,1.8,1.95,1.85,1.6,1.2,0.7,0.3,0.12,0.08,0.1,0.15,0.2,0.25]
WCLE_TOP_LAG = [0,0.15,0.4,0.42,0.35,0.3,0.42,0.7,1.2,1.85,2.3,2.35,2.2,1.85,1.7,1.6,1.5,1.15,0.65,0.3,0.15,0.12,0.12,0.12,0.1,0.06]
WCLE_SIDE_Y = [-0.58,-0.55,-0.5,-0.45,-0.4,-0.35,-0.3,-0.25,-0.2,-0.15,-0.1,-0.05,0,0.05,0.1,0.15,0.2,0.25,0.3,0.35,0.4,0.45,0.5]
WCLE_SIDE_LEAD = [0.3,0.25,0.1,0.06,0.05,0.1,0.3,0.55,0.9,1.5,2.05,2.35,2.4,2.3,2.1,1.75,1.3,0.8,0.35,0.15,0.1,0.12,0]
WCLE_SIDE_LAG = [0.05,0.06,0.06,0.08,0.06,0.1,0.3,0.5,0.95,1.6,2.3,2.6,2.5,2.2,1.85,1.4,1.0,0.6,0.3,0.2,0.3,0.5,0]
WCLE_AX1_TICKS = [-0.6, -0.3, 0, 0.3, 0.6]
WCLE_AX1_LABELS = ["−0.6", "−0.3", "0.0", "0.3", "0.6"]
WCLE_AX2_TICKS = [-0.6, -0.3, 0, 0.3]
WCLE_AX2_LABELS = ["−0.6", "−0.3", "0.0", "0.3"]
WCLE_DENS_TICKS = [0, 0.5, 1.0, 1.5, 2.0]
WCLE_DENS_LABELS = ["0.0", "0.5", "1.0", "1.5", "2.0"]
WCLE_SIDE_TICKS = [0, 1, 2]
WCLE_SIDE_LABELS = ["0", "1", "2"]

# ---------------------------------------------------------------- wOvC
WOVC_LEAD = [(-0.104,0.673),(0.021,0.53),(0.007,0.489),(-0.068,0.468),(-0.011,0.36),(-0.046,0.403),(-0.028,0.403),
    (-0.054,0.38),(-0.225,0.434),(-0.246,0.415),(-0.456,0.389),(-0.468,0.252),(-0.37,0.243),(-0.374,0.219),
    (-0.302,0.346),(-0.302,0.321),(-0.191,0.342),(-0.16,0.305),(-0.133,0.243),(-0.072,0.315),(0.049,0.356),
    (0.095,0.356),(0.125,0.358),(0.158,0.446),(0.232,0.397),(0.235,0.374),(0.235,0.335),(0.235,0.305),(0.277,0.243),
    (0.349,0.217),(0.509,0.067),(0.379,0.07),(0.393,0.002),(0.414,-0.135),(0.412,-0.172),(0.502,-0.125),
    (0.532,-0.186),(0.474,-0.231),(0.377,-0.227),(0.328,-0.305),(0.225,-0.209),(0.216,-0.254),(0.714,-0.544),
    (0.112,-0.448),(0.019,-0.697),(-0.011,-0.364),(-0.037,-0.258),(-0.054,-0.256),(-0.093,-0.438),(-0.058,-0.489),
    (-0.247,-0.493),(-0.253,-0.728),(-0.309,-0.411),(-0.446,-0.411),(-0.6,-0.264),(-0.481,-0.231),(-0.326,-0.292),
    (-0.282,-0.258),(-0.261,-0.303),(-0.212,-0.303),(-0.154,-0.258),(-0.116,-0.299),(-0.168,-0.207),(-0.467,0.08),
    (-0.458,0.039),(-0.44,-0.022),(-0.414,0.018),(-0.396,-0.053),(-0.432,-0.104),(-0.405,-0.125),(-0.379,0.049),
    (-0.353,0.1),(-0.326,0.059),(-0.309,-0.002),(-0.291,0.039),(-0.265,0.08),(-0.239,0.039),(-0.212,-0.002),
    (-0.186,0.039),(-0.161,0.08),(-0.133,0.018),(-0.107,-0.022),(-0.081,-0.002),(-0.054,-0.022),(-0.028,-0.043),
    (0.007,-0.022),(0.033,-0.043),(0.06,-0.022),(0.086,-0.043),(0.112,-0.002),(0.139,0.018),(0.165,0.039),
    (0.191,0.018),(0.218,0.039),(0.182,0.07),(0.147,0.08),(0.121,0.059),(0.095,0.1),(0.068,0.08),(0.165,-0.002),
    (0.2,-0.022),(0.235,-0.043),(0.27,-0.074),(0.296,-0.104),(0.261,-0.125),(0.323,-0.043),(0.358,-0.002),
    (0.314,0.039),(0.279,0.08),(0.253,0.121),(0.218,0.151),(0.182,0.141),(0.147,0.182),(0.112,0.202),(0.077,0.162),
    (0.042,0.121),(0.007,0.141),(-0.028,0.182),(-0.063,0.141),(-0.098,0.162),(-0.133,0.182),(-0.168,0.151),
    (-0.204,0.182),(-0.239,0.151),(-0.265,0.182),(-0.247,0.223),(-0.204,0.264),(-0.168,0.243),(-0.098,0.223),
    (-0.063,0.264),(0.007,0.284),(0.042,0.243),(0.147,0.264),(0.165,0.202),(-0.168,-0.063),(-0.133,-0.104),
    (-0.089,-0.094),(-0.221,-0.084),(-0.274,-0.084),(-0.326,-0.104),(-0.37,-0.084),(-0.344,-0.166),(-0.291,-0.166),
    (-0.239,-0.145),(-0.011,-0.104),(0.042,-0.125),(0.095,-0.104),(0.112,-0.145),(0.165,-0.125),(0.077,-0.207),
    (0.025,-0.207),(-0.028,-0.217),(0.288,-0.166),(0.349,-0.145),(0.375,-0.084),(0.446,-0.094),(0.463,-0.063),
    (0.182,-0.084),(0.218,-0.115),
    (-0.38,0.10),(-0.34,0.02),(-0.30,0.10),(-0.27,-0.04),(-0.23,0.08),(-0.20,0.11),(-0.17,0.02),(-0.14,0.10),
    (-0.11,0.06),(-0.08,0.13),(-0.05,0.04),(-0.02,0.09),(0.02,0.05),(0.05,0.02),(0.08,0.05),(0.11,0.03),(0.13,0.12),
    (0.16,0.08),(0.19,0.11),(0.22,0.00),(0.25,0.06),(0.28,0.02),(0.31,0.09),(0.14,-0.05),(0.10,-0.07),(0.06,-0.06),
    (-0.02,-0.07),(-0.10,-0.06),(-0.18,-0.03),(-0.26,0.04),(-0.33,-0.12),(-0.42,0.13),(0.18,-0.04),(0.24,-0.10),
    (0.30,-0.02),
    (-0.36,0.06),(-0.32,0.13),(-0.28,0.07),(-0.24,0.12),(-0.21,0.04),(-0.16,0.13),(-0.12,0.09),(-0.06,0.07),
    (-0.03,0.12),(0.01,0.02),(0.04,0.08),(0.09,0.11),(0.12,0.06),(0.15,0.03),(0.18,0.05),(0.21,0.08),(0.23,0.03),
    (0.27,-0.03),(0.2,-0.06),(0.16,-0.08),(0.12,-0.1),(-0.06,-0.04),(-0.14,-0.02),(-0.22,-0.06),(-0.3,0.0)]
WOVC_LAG = [(-0.639,0.155),(-0.623,-0.192),(-0.539,-0.346),(-0.563,-0.274),(-0.525,-0.022),(-0.511,-0.043),
    (-0.498,-0.037),(-0.505,-0.094),(-0.507,-0.153),(-0.488,-0.274),(-0.453,-0.294),(-0.475,-0.053),(-0.404,0.401),
    (-0.374,0.438),(-0.363,0.247),(-0.405,-0.278),(-0.323,-0.254),(-0.228,-0.374),(-0.226,-0.427),(-0.24,0.417),
    (-0.221,0.278),(-0.151,0.315),(-0.089,0.37),(-0.033,0.321),(0.002,0.356),(0.025,0.356),(0.047,0.354),(0.081,0.474),
    (0.107,0.495),(0.091,0.356),(-0.004,0.223),(-0.049,0.162),(-0.13,0.131),(-0.186,0.117),(-0.154,0.043),
    (-0.107,-0.002),(-0.072,-0.033),(0.007,-0.094),(0.042,-0.074),(0.032,-0.149),(-0.014,-0.272),(0.0,-0.313),
    (0.007,-0.339),(-0.067,-0.366),(0.004,-0.513),(0.051,-0.636),(0.0,-0.84),(0.086,-0.333),(0.135,-0.421),
    (0.228,-0.382),(0.226,-0.548),(0.332,-0.714),(0.214,-0.155),(0.288,-0.202),(0.319,-0.227),(0.375,-0.258),
    (0.425,-0.164),(0.481,-0.162),(0.491,-0.268),(0.521,-0.268),(0.526,-0.309),(0.546,-0.407),(0.556,-0.16),
    (0.611,-0.176),(0.632,0.19),(0.421,0.362),(0.458,0.356),(0.428,0.059),(0.404,-0.043),(0.463,-0.027),
    (0.454,-0.11),(0.384,-0.094),(0.316,0.141),(0.296,0.131),(0.267,0.172),(0.226,0.237),(0.195,0.223),(0.165,0.264),
    (0.126,0.202),(0.06,0.254),(0.095,0.141),(0.121,0.1),(0.165,0.1),(0.2,0.08),(0.235,0.059),(0.27,0.018),
    (0.296,-0.022),(0.261,-0.043),(0.226,-0.074),(0.191,-0.104),(0.156,-0.084),(0.121,-0.063),(0.095,-0.022),
    (0.068,-0.053),(0.104,0.029),(0.2,-0.053),(0.253,-0.094),(0.279,-0.145),(0.235,-0.145),(0.323,-0.094),
    (0.34,-0.125),(0.358,-0.043),(-0.133,-0.043),(-0.204,-0.022),(-0.239,-0.104),(-0.274,-0.145),(-0.309,-0.125),
    (-0.344,-0.043),(-0.37,0.018),(-0.309,0.121),(-0.265,0.141),(-0.221,0.08),(-0.177,-0.002),(-0.151,-0.125),
    (-0.063,-0.125),(-0.081,-0.176),(-0.133,-0.207),(-0.168,-0.247),(-0.116,-0.247),(-0.037,-0.166),(0.025,-0.186),
    (0.147,-0.186),(0.095,-0.207),(0.182,-0.207),(0.06,0.08),(0.007,0.049),(-0.046,0.059),(-0.089,0.1),(-0.018,0.018),
    (-0.40,-0.05),(-0.35,-0.10),(-0.30,-0.03),(-0.25,-0.06),(-0.20,-0.15),(-0.15,0.05),(-0.10,0.14),(-0.05,0.10),
    (0.03,0.13),(0.09,0.17),(0.13,0.07),(0.17,0.01),(0.21,-0.02),(0.25,-0.06),(0.29,-0.05),(0.33,-0.08),(0.37,-0.14),
    (0.30,0.05),(0.26,0.10),(0.20,0.13),(0.15,-0.12),(0.10,-0.14),(0.05,-0.02),(-0.03,-0.01),(-0.08,-0.10),(0.35,0.00),
    (0.42,-0.05),(0.12,-0.02),(0.18,0.16),(0.06,0.04),
    (-0.38,-0.09),(-0.33,-0.05),(-0.28,-0.1),(-0.22,-0.12),(0.14,0.12),(0.19,0.06),(0.23,0.03),(0.27,0.05),(0.31,-0.03),
    (0.24,-0.12),(0.28,-0.11),(0.32,-0.14),(0.36,-0.06),(0.4,-0.12),(0.11,-0.09),(0.16,-0.04),(0.08,0.09),(-0.12,-0.14),
    (-0.18,0.09),(-0.02,0.16)]
WOVC_TOP_X = [-0.63,-0.55,-0.5,-0.45,-0.4,-0.35,-0.3,-0.25,-0.2,-0.15,-0.1,-0.05,0,0.05,0.1,0.15,0.2,0.25,0.3,0.35,0.4,0.45,0.5,0.55,0.6,0.7]
WOVC_TOP_LEAD = [0.03,0.1,0.25,0.45,0.75,1.0,1.2,1.35,1.42,1.4,1.25,1.15,1.1,1.2,1.38,1.58,1.45,1.1,0.7,0.4,0.2,0.1,0.05,0.03,0.02,0.01]
WOVC_TOP_LAG = [0.05,0.15,0.25,0.3,0.4,0.55,0.8,1.05,1.1,1.0,0.92,0.95,1.1,1.25,1.4,1.55,1.65,1.5,1.15,0.75,0.5,0.3,0.18,0.1,0.05,0.01]
WOVC_SIDE_Y = [-0.95,-0.6,-0.4,-0.3,-0.25,-0.2,-0.15,-0.1,-0.05,-0.02,0,0.02,0.05,0.1,0.15,0.2,0.25,0.3,0.4,0.5,0.67]
WOVC_SIDE_LEAD = [0,0.02,0.05,0.1,0.15,0.22,0.5,1.0,1.6,2.6,3.1,3.25,2.8,2.1,1.4,1.0,0.75,0.5,0.2,0.08,0]
WOVC_SIDE_LAG = [0.03,0.05,0.1,0.2,0.35,0.6,1.1,1.7,2.2,2.5,2.55,2.5,2.3,1.9,1.35,0.95,0.7,0.45,0.18,0.08,0]
WOVC_AX1_TICKS = [-0.4, 0, 0.4]
WOVC_AX1_LABELS = ["−0.4", "0.0", "0.4"]
WOVC_AX2_TICKS = [-1.0, -0.5, 0, 0.5]
WOVC_AX2_LABELS = ["−1.0", "−0.5", "0.0", "0.5"]
WOVC_DENS_TICKS = [0, 0.5, 1.0, 1.5]
WOVC_DENS_LABELS = ["0.0", "0.5", "1.0", "1.5"]
WOVC_SIDE_TICKS = [0, 1, 2, 3]
WOVC_SIDE_LABELS = ["0", "1", "2", "3"]

PANELS = [
    dict(name="wMel", lead=WMEL_LEAD, lag=WMEL_LAG,
         top=(WMEL_TOP_X, WMEL_TOP_LEAD, WMEL_TOP_LAG), side=(WMEL_SIDE_Y, WMEL_SIDE_LEAD, WMEL_SIDE_LAG),
         ax1=(WMEL_AX1_TICKS, WMEL_AX1_LABELS), ax2=(WMEL_AX2_TICKS, WMEL_AX2_LABELS),
         dens=(WMEL_DENS_TICKS, WMEL_DENS_LABELS), sdens=(WMEL_SIDE_TICKS, WMEL_SIDE_LABELS)),
    dict(name="wPipPel", lead=WPIPPEL_LEAD, lag=WPIPPEL_LAG,
         top=(WPIPPEL_TOP_X, WPIPPEL_TOP_LEAD, WPIPPEL_TOP_LAG), side=(WPIPPEL_SIDE_Y, WPIPPEL_SIDE_LEAD, WPIPPEL_SIDE_LAG),
         ax1=(WPIPPEL_AX1_TICKS, WPIPPEL_AX1_LABELS), ax2=(WPIPPEL_AX2_TICKS, WPIPPEL_AX2_LABELS),
         dens=(WPIPPEL_DENS_TICKS, WPIPPEL_DENS_LABELS), sdens=(WPIPPEL_SIDE_TICKS, WPIPPEL_SIDE_LABELS)),
    dict(name="wDi", lead=WDI_LEAD, lag=WDI_LAG,
         top=(WDI_TOP_X, WDI_TOP_LEAD, WDI_TOP_LAG), side=(WDI_SIDE_Y, WDI_SIDE_LEAD, WDI_SIDE_LAG),
         ax1=(WDI_AX1_TICKS, WDI_AX1_LABELS), ax2=(WDI_AX2_TICKS, WDI_AX2_LABELS),
         dens=(WDI_DENS_TICKS, WDI_DENS_LABELS), sdens=(WDI_SIDE_TICKS, WDI_SIDE_LABELS)),
    dict(name="wOo", lead=WOO_LEAD, lag=WOO_LAG,
         top=(WOO_TOP_X, WOO_TOP_LEAD, WOO_TOP_LAG), side=(WOO_SIDE_Y, WOO_SIDE_LEAD, WOO_SIDE_LAG),
         ax1=(WOO_AX1_TICKS, WOO_AX1_LABELS), ax2=(WOO_AX2_TICKS, WOO_AX2_LABELS),
         dens=(WOO_DENS_TICKS, WOO_DENS_LABELS), sdens=(WOO_SIDE_TICKS, WOO_SIDE_LABELS)),
    dict(name="wCle", lead=WCLE_LEAD, lag=WCLE_LAG,
         top=(WCLE_TOP_X, WCLE_TOP_LEAD, WCLE_TOP_LAG), side=(WCLE_SIDE_Y, WCLE_SIDE_LEAD, WCLE_SIDE_LAG),
         ax1=(WCLE_AX1_TICKS, WCLE_AX1_LABELS), ax2=(WCLE_AX2_TICKS, WCLE_AX2_LABELS),
         dens=(WCLE_DENS_TICKS, WCLE_DENS_LABELS), sdens=(WCLE_SIDE_TICKS, WCLE_SIDE_LABELS)),
    dict(name="wOvC", lead=WOVC_LEAD, lag=WOVC_LAG,
         top=(WOVC_TOP_X, WOVC_TOP_LEAD, WOVC_TOP_LAG), side=(WOVC_SIDE_Y, WOVC_SIDE_LEAD, WOVC_SIDE_LAG),
         ax1=(WOVC_AX1_TICKS, WOVC_AX1_LABELS), ax2=(WOVC_AX2_TICKS, WOVC_AX2_LABELS),
         dens=(WOVC_DENS_TICKS, WOVC_DENS_LABELS), sdens=(WOVC_SIDE_TICKS, WOVC_SIDE_LABELS)),
]

# Page geometry in pixels: title centre, boxes (x0, y0, x1, y1) and axis ranges.
GEOMETRY = [
    dict(title=(185, 23), top=(35, 58, 328, 99), scat=(46, 141, 328, 433), side=(380, 141, 412, 433),
         xr=[-0.416, 2.015], yr=[-0.873, 0.647], dr=[-0.23, 4.83], sr=[-0.33, 3.62],
         dens_lab_x=17, ax2_lab_x=17, side_lab_x=353, side_dens_x=396),
    dict(title=(603, 23), top=(463, 58, 756, 99), scat=(478, 142, 756, 434), side=(814, 142, 840, 434),
         xr=[-0.593, 0.670], yr=[-0.649, 0.475], dr=[-0.14, 3.25], sr=[-0.28, 3.98],
         dens_lab_x=442, ax2_lab_x=444, side_lab_x=781, side_dens_x=827),
    dict(title=(191, 492), top=(39, 531, 333, 571), scat=(44, 615, 333, 906), side=(381, 615, 417, 906),
         xr=[-0.602, 0.948], yr=[-1.66, 1.325], dr=[-0.12, 3.58], sr=[-0.08, 3.93],
         dens_lab_x=20, ax2_lab_x=21, side_lab_x=357, side_dens_x=398),
    dict(title=(615, 498), top=(468, 534, 762, 575), scat=(475, 618, 762, 911), side=(811, 618, 846, 911),
         xr=[-0.629, 1.071], yr=[-0.497, 1.155], dr=[-0.15, 3.45], sr=[-0.14, 3.7],
         dens_lab_x=451, ax2_lab_x=451, side_lab_x=786, side_dens_x=828),
    dict(title=(194, 971), top=(47, 1011, 333, 1052), scat=(52, 1095, 333, 1387), side=(387, 1095, 420, 1387),
         xr=[-0.630, 0.651], yr=[-0.637, 0.554], dr=[-0.13, 2.55], sr=[-0.21, 2.87],
         dens_lab_x=20, ax2_lab_x=22, side_lab_x=357, side_dens_x=402),
    dict(title=(627, 972), top=(480, 1014, 767, 1055), scat=(485, 1097, 767, 1388), side=(820, 1097, 851, 1388),
         xr=[-0.704, 0.779], yr=[-1.031, 0.755], dr=[-0.12, 1.73], sr=[-0.28, 3.5],
         dens_lab_x=456, ax2_lab_x=456, side_lab_x=792, side_dens_x=835),
]


def fx(px):
    return px / W


def fy(py):
    return 1 - py / H


def minor_vals(vals, rng):
    lo, hi = min(rng), max(rng)
    out = [(a + b) / 2 for a, b in zip(vals[:-1], vals[1:])]
    if len(vals) > 1:
        step = vals[1] - vals[0]
        for m in (vals[0] - step / 2, vals[-1] + step / 2):
            if lo < m < hi:
                out.append(m)
    return out


def make_axis(domain, rng, ticks, labels, anchor, size=8.6, standoff=0):
    return dict(
        domain=domain, range=rng, anchor=anchor, autorange=False, fixedrange=True,
        tickmode="array", tickvals=ticks, ticktext=labels, tickangle=0,
        showgrid=True, gridcolor="white", gridwidth=1.1,
        zeroline=False, showline=False,
        ticks="outside", ticklen=3, tickwidth=1, tickcolor=GREY, ticklabelstandoff=standoff,
        tickfont=dict(family=FONT, size=size, color=GREY),
        minor=dict(tickvals=minor_vals(ticks, rng), showgrid=True, gridcolor="#F2F2F2", gridwidth=0.5),
    )


def refs(k):
    return ("x" if k == 1 else f"x{k}", "y" if k == 1 else f"y{k}")


def keys(k):
    return ("xaxis" if k == 1 else f"xaxis{k}", "yaxis" if k == 1 else f"yaxis{k}")


fig = go.Figure()
layout = dict(width=W, height=H, margin=dict(l=0, r=0, t=0, b=0, pad=0),
              paper_bgcolor="white", plot_bgcolor="#E5E5E5", showlegend=False,
              shapes=[], annotations=[])


def label(text, x, y, size=10, angle=0, color="black", family=FONT, xanchor="center", bold=False):
    layout["annotations"].append(dict(
        text=f"<b>{text}</b>" if bold else text, x=fx(x), y=fy(y), xref="paper", yref="paper",
        showarrow=False, xanchor=xanchor, yanchor="middle", textangle=angle,
        font=dict(family=family, size=size, color=color)))


for i, (p, g) in enumerate(zip(PANELS, GEOMETRY)):
    kt, ks, kr = 3 * i + 1, 3 * i + 2, 3 * i + 3
    xt, yt = refs(kt)
    xs, ys = refs(ks)
    xr_, yr_ = refs(kr)

    # axes
    tx0, ty0, tx1, ty1 = g["top"]
    sx0, sy0, sx1, sy1 = g["scat"]
    rx0, ry0, rx1, ry1 = g["side"]
    ax_t, ay_t = keys(kt)
    ax_s, ay_s = keys(ks)
    ax_r, ay_r = keys(kr)
    layout[ax_t] = make_axis([fx(tx0), fx(tx1)], g["xr"], *p["ax1"], anchor=yt, standoff=-2)
    layout[ay_t] = make_axis([fy(ty1), fy(ty0)], g["dr"], *p["dens"], anchor=xt)
    layout[ax_s] = make_axis([fx(sx0), fx(sx1)], g["xr"], *p["ax1"], anchor=ys, standoff=-2)
    layout[ay_s] = make_axis([fy(sy1), fy(sy0)], g["yr"], *p["ax2"], anchor=xs)
    layout[ax_r] = make_axis([fx(rx0), fx(rx1)], g["sr"], *p["sdens"], anchor=yr_, size=8, standoff=-2)
    layout[ay_r] = make_axis([fy(ry1), fy(ry0)], g["yr"], *p["ax2"], anchor=xr_)

    # marginal density along axis1 (Lagging drawn over Leading)
    gx, d_lead, d_lag = p["top"]
    for vals, fill in ((d_lead, LEAD_FILL), (d_lag, LAG_FILL)):
        fig.add_trace(go.Scatter(
            x=[gx[0]] + list(gx) + [gx[-1], gx[0]], y=[0] + list(vals) + [0, 0],
            mode="lines", fill="toself", fillcolor=fill, line=dict(color="black", width=0.7),
            xaxis=xt, yaxis=yt, hoverinfo="skip"))

    # marginal density along axis2
    gy, s_lead, s_lag = p["side"]
    for vals, fill in ((s_lead, LEAD_FILL), (s_lag, LAG_FILL)):
        fig.add_trace(go.Scatter(
            x=[0] + list(vals) + [0, 0], y=[gy[0]] + list(gy) + [gy[-1], gy[0]],
            mode="lines", fill="toself", fillcolor=fill, line=dict(color="black", width=0.7),
            xaxis=xr_, yaxis=yr_, hoverinfo="skip"))

    # scatter of the two replication groups
    for pts, color, nm in ((p["lag"], LAG_COLOR, SERIES[1]), (p["lead"], LEAD_COLOR, SERIES[0])):
        fig.add_trace(go.Scatter(
            x=[a for a, _ in pts], y=[b for _, b in pts], mode="markers", name=nm,
            marker=dict(size=5, color=color, line=dict(width=0)),
            xaxis=xs, yaxis=ys))

    # text
    label(p["name"], g["title"][0], g["title"][1], size=34, bold=True)
    label("axis1", (tx0 + tx1) / 2, ty1 + 20)
    label("density", g["dens_lab_x"], (ty0 + ty1) / 2, angle=-90)
    label("axis1", (sx0 + sx1) / 2, sy1 + 21)
    label("axis2", g["ax2_lab_x"], (sy0 + sy1) / 2, angle=-90)
    label("axis2", g["side_lab_x"], (ry0 + ry1) / 2, angle=-90)
    label("density", g["side_dens_x"], ry1 + 21)

    # legend box
    lx0, ly0 = sx1 - 37, sy0 + 8
    layout["shapes"].append(dict(type="rect", xref="paper", yref="paper", layer="above",
                                 x0=fx(lx0), x1=fx(lx0 + 62), y0=fy(ly0 + 45), y1=fy(ly0),
                                 fillcolor="white", line=dict(width=0)))
    for j, (nm, color) in enumerate(((SERIES[0], LEAD_COLOR), (SERIES[1], LAG_COLOR))):
        ky = ly0 + 8 + 15 * j
        layout["shapes"].append(dict(type="rect", xref="paper", yref="paper", layer="above",
                                     x0=fx(lx0 + 4), x1=fx(lx0 + 17), y0=fy(ky + 14), y1=fy(ky),
                                     fillcolor="#F2F2F2", line=dict(width=0)))
        cx, cy = lx0 + 10.5, ky + 7
        layout["shapes"].append(dict(type="circle", xref="paper", yref="paper", layer="above",
                                     x0=fx(cx - 2.5), x1=fx(cx + 2.5), y0=fy(cy + 2.5), y1=fy(cy - 2.5),
                                     fillcolor=color, line=dict(width=0)))
        label(nm, lx0 + 21, cy, size=9.6, family=LEGEND_FONT, xanchor="left")

fig.update_layout(**layout)
fig.write_html("out.html")
